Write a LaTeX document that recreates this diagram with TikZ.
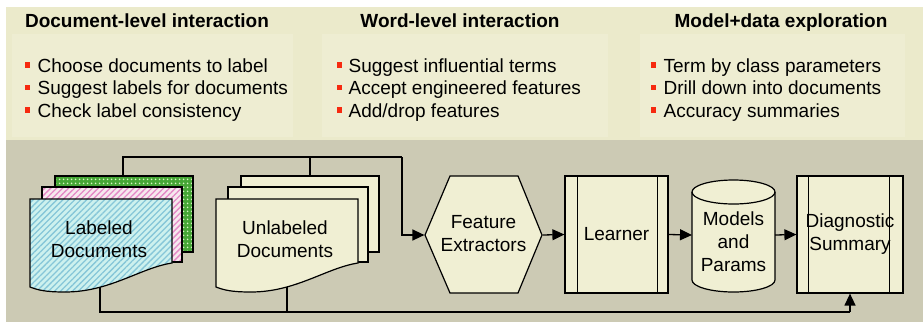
\documentclass[tikz,border=0pt]{standalone}
\usepackage{fontspec}
\setmainfont{Liberation Sans}
\usetikzlibrary{arrows.meta,patterns.meta}
\definecolor{topbg}{HTML}{EBEACB}
\definecolor{panelbg}{HTML}{EEEDD2}
\definecolor{botbg}{HTML}{CCCAB4}
\definecolor{cream}{HTML}{F0EFD3}
\definecolor{bulred}{HTML}{F62A10}
\definecolor{cyanbase}{HTML}{CDF1EE}
\definecolor{cyanline}{HTML}{86C6D8}
\definecolor{pinkbase}{HTML}{F6E8EE}
\definecolor{pinkline}{HTML}{E488C6}
\definecolor{greenbase}{HTML}{46A636}
\definecolor{greendot}{HTML}{D6F6C2}
\begin{document}
\begin{tikzpicture}[x=1pt,y=-1pt,line width=1.2pt,
  lbl/.style={font=\fontsize{19}{23}\selectfont, align=center, inner sep=0pt},
  head/.style={font=\fontsize{19}{23}\selectfont\bfseries, anchor=base, inner sep=0pt},
  item/.style={font=\fontsize{19}{23}\selectfont, anchor=base west, inner sep=0pt},
  shapebox/.style={draw=black, line width=1.2pt, fill=cream},
  cyanfill/.style={draw=black, line width=1.2pt, preaction={fill=cyanbase},
     pattern={Lines[angle=45,distance=4.2pt,line width=1.3pt]}, pattern color=cyanline},
  pinkfill/.style={draw=black, line width=1.2pt, preaction={fill=pinkbase},
     pattern={Lines[angle=45,distance=4.2pt,line width=1.3pt]}, pattern color=pinkline},
  greenfill/.style={draw=black, line width=1.2pt, preaction={fill=greenbase},
     pattern={Dots[distance=4pt,radius=1.1pt]}, pattern color=greendot},
  conn/.style={draw=black, line width=1.3pt},
  arr/.style={conn, -{Triangle[length=12pt,width=11pt]}},
  bullet/.style={fill=bulred}
]
\useasboundingbox (0,0) rectangle (923,322);
\fill[white] (0,0) rectangle (923,322);
\fill[topbg] (6,7) rectangle (923,140);
\fill[botbg] (6,140) rectangle (923,322);
% faint panels
\fill[panelbg] (12,34) rectangle (293,137);
\fill[panelbg] (322,34) rectangle (608,137);
\fill[panelbg] (640,34) rectangle (905,137);

% headings
\node[head] (h1) at (147,27) {Document-level interaction};
\node[head] (h2) at (460,27) {Word-level interaction};
\node[head] (h3) at (781,27) {Model+data exploration};

% bullet lists
\foreach \bx/\tx [count=\c] in {27.5/37, 339.5/348, 653.5/663} {
  \foreach \by in {72,94.5,117} {
    \fill[bullet] (\bx-2.7,\by-9.7) rectangle (\bx+2.7,\by-4.3);
  }
}
\node[item] (a1) at (37,72) {Choose documents to label};
\node[item] (a2) at (37,94.5) {Suggest labels for documents};
\node[item] (a3) at (37,117) {Check label consistency};
\node[item] (b1) at (348,72) {Suggest influential terms};
\node[item] (b2) at (348,94.5) {Accept engineered features};
\node[item] (b3) at (348,117) {Add/drop features};
\node[item] (c1) at (663,72) {Term by class parameters};
\node[item] (c2) at (663,94.5) {Drill down into documents};
\node[item] (c3) at (663,117) {Accuracy summaries};

% labeled documents
\path[greenfill] (55,176) rectangle (193,252);
\path[pinkfill] (42,187) rectangle (182,262);
\path[cyanfill] (30,199) -- (172,199) -- (172,263) .. controls (140,268) and (110,292) .. (65,292)
   .. controls (45,292) and (38,290) .. (30,287) -- cycle;
\node[lbl] (lab) at (99,241.6) {\strut Labeled\\\strut Documents};
\coordinate (labT) at (123,176);
\coordinate (labB) at (100,287);

% unlabeled documents
\begin{scope}[xshift=186pt]
\path[shapebox] (55,176) rectangle (193,252);
\path[shapebox] (42,187) rectangle (182,262);
\path[shapebox] (30,199) -- (172,199) -- (172,263) .. controls (140,268) and (110,292) .. (65,292)
   .. controls (45,292) and (38,290) .. (30,287) -- cycle;
\end{scope}
\node[lbl] (unl) at (285,241.6) {\strut Unlabeled\\\strut Documents};
\coordinate (unlT) at (310,176);
\coordinate (unlB) at (287,287);

% feature extractors (hexagon)
\path[shapebox] (425,235) -- (450,176) -- (518,176) -- (542,235) -- (518,293) -- (450,293) -- cycle;
\node[lbl, minimum width=117pt, minimum height=117pt] (fe) at (483.5,235) {\strut Feature\\\strut Extractors};

% learner
\node[shapebox, lbl, minimum width=103pt, minimum height=117pt] (learn) at (616.5,234.5) {Learner};
\draw ([xshift=13pt]learn.north west) -- ([xshift=13pt]learn.south west);
\draw ([xshift=-11pt]learn.north east) -- ([xshift=-11pt]learn.south east);

% models and params (cylinder)
\path[shapebox] (692,192) -- (692,280)
   .. controls (692,286.6) and (710.6,292) .. (733.5,292)
   .. controls (756.4,292) and (775,286.6) .. (775,280)
   -- (775,192)
   .. controls (775,185.4) and (756.4,180) .. (733.5,180)
   .. controls (710.6,180) and (692,185.4) .. (692,192) -- cycle;
\draw (692,192) .. controls (692,198.6) and (710.6,204) .. (733.5,204)
   .. controls (756.4,204) and (775,198.6) .. (775,192);
\node[lbl] (mp) at (733.5,243.5) {\strut Models\\\strut and\\\strut Params};
\coordinate (mpL) at (692,235);
\coordinate (mpR) at (775,235);

% diagnostic summary
\node[shapebox, lbl, minimum width=106pt, minimum height=117pt] (diag) at (850,234.5) {\strut Diagnostic\\\strut Summary};
\draw ([xshift=12pt]diag.north west) -- ([xshift=12pt]diag.south west);
\draw ([xshift=-14pt]diag.north east) -- ([xshift=-14pt]diag.south east);

% connectors
\coordinate (jtop) at (402,157);
\coordinate (jbot) at (850,312);
\draw[conn] (labT) |- (jtop);
\draw[conn] (unlT) -- (unlT |- jtop);
\draw[arr] (jtop) |- (fe.west);
\draw[arr] (fe.east) -- (learn.west);
\draw[arr] (learn.east) -- (mpL);
\draw[arr] (mpR) -- (diag.west);
\draw[conn] (labB) |- (jbot);
\draw[conn] (unlB) -- (unlB |- jbot);
\draw[arr] (jbot) -- (diag.south);
\end{tikzpicture}
\end{document}
